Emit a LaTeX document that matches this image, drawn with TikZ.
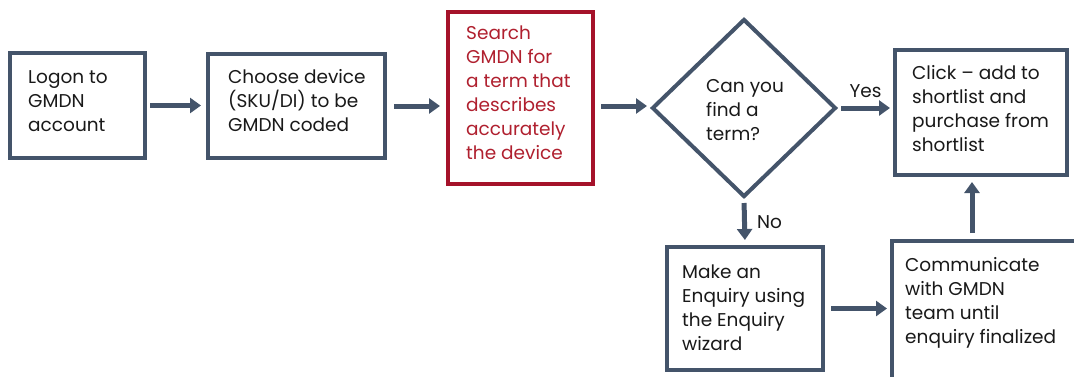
\documentclass[tikz,border=0pt]{standalone}
\usepackage{fontspec}
\setmainfont{Poppins}
\usetikzlibrary{shapes.geometric,arrows.meta}
\definecolor{slate}{HTML}{44546A}
\definecolor{dred}{HTML}{A5122A}
\definecolor{tred}{HTML}{B0202F}
\tikzset{
  box/.style={draw=slate, line width=4pt, fill=white, inner sep=0pt},
  redbox/.style={box, draw=dred},
  txt/.style={font=\fontsize{18.5}{24}\selectfont, text=black!90, inner sep=0pt, align=left, anchor=west},
  redtxt/.style={txt, text=tred},
  arr/.style={draw=slate, line width=5pt, -{Triangle[length=11pt,width=15pt]}},
  lbl/.style={font=\fontsize{18.5}{24}\selectfont, text=black!90, inner sep=0pt}
}
\begin{document}
\begin{tikzpicture}[x=1pt,y=-1pt]
\useasboundingbox (0,0) rectangle (1074,376);
\clip (0,0) rectangle (1074,376);
\node[box, minimum width=135, minimum height=105] (b1) at (77.5,105.5) {};
\node[box, minimum width=177, minimum height=104] (b2) at (296.5,106) {};
\node[redbox, minimum width=145, minimum height=172] (b3) at (520.5,98) {};
\node[box, shape=diamond, minimum width=184, minimum height=178] (d) at (744,108) {};
\node[box, minimum width=172, minimum height=125] (b4) at (981,112.5) {};
\node[box, minimum width=156, minimum height=123] (b5) at (745,308.5) {};
\node[box, minimum width=240, minimum height=200, anchor=north west] (b6) at (890,239) {};
\node[txt] (t1) at (28,101.5) {Logon to\\GMDN\\account};
\node[txt] (t2) at (228,100.5) {Choose device\\(SKU/DI) to be\\GMDN coded};
\node[redtxt] (t3) at (466,93) {Search\\GMDN for\\a term that\\describes\\accurately\\the device};
\node[txt] (td) at (706,110) {Can you\\find a\\term?};
\node[txt] (t4) at (912,109) {Click -- add to\\shortlist and\\purchase from\\shortlist};
\node[txt] (t5) at (682,308) {Make an\\Enquiry using\\the Enquiry\\wizard};
\node[txt] (t6) at (905,303) {Communicate\\with GMDN\\team until\\enquiry finalized};
\draw[arr, shorten <=3pt, shorten >=5pt] (b1.east) -- (b1.east -| b2.west);
\draw[arr, shorten <=7pt, shorten >=6pt] (b2.east) -- (b2.east -| b3.west);
\draw[arr, shorten <=6pt, shorten >=3pt] (b3.east |- b2.east) -- (d.west |- b2.east);
\draw[arr, shorten <=3pt, shorten >=3pt] (d.east) -- (d.east -| b4.west) node[lbl, midway, above=8pt] (yes) {Yes};
\draw[arr, shorten <=4pt, shorten >=5pt] (d.south) -- (b5.north) node[lbl, midway, right=10pt] (no) {No};
\draw[arr, shorten <=6pt, shorten >=3pt] (b5.east) -- (b5.east -| b6.west);
\draw[arr, shorten <=6pt, shorten >=5pt] ([xshift=82pt]b6.north west) -- ([xshift=82pt]b6.north west |- b4.south);
\end{tikzpicture}
\end{document}
